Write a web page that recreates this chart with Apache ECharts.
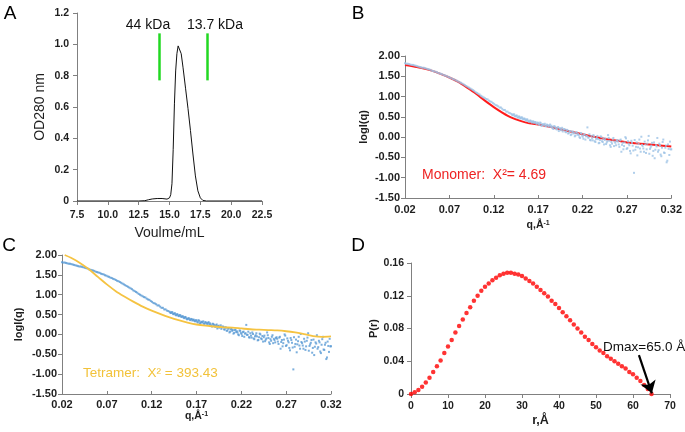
<!DOCTYPE html>
<html><head><meta charset="utf-8">
<script src="https://cdn.jsdelivr.net/npm/echarts@6/dist/echarts.min.js"></script>
<style>html,body{margin:0;padding:0;background:#fff}#c{width:685px;height:432px}</style>
</head><body><div id="c"></div>
<script>
// ---------- Panel A: size-exclusion chromatogram ----------
const elutionVolume = [7.5, 12.5, 13.0, 13.3, 13.6, 14.0, 14.4, 14.8, 15.0, 15.1, 15.2, 15.3, 15.4, 15.5, 15.6, 15.7, 15.77, 15.85, 15.95, 16.1, 16.3, 16.5, 16.7, 16.9, 17.1, 17.3, 17.5, 17.7, 18.0, 22.5];
const od280 = [0, 0, 0.002, 0.008, 0.013, 0.016, 0.016, 0.012, 0.02, 0.04, 0.11, 0.33, 0.62, 0.83, 0.94, 0.99, 1.0, 0.985, 0.94, 0.85, 0.72, 0.59, 0.45, 0.30, 0.16, 0.065, 0.02, 0.004, 0, 0];
const markerVolume = [14.17, 18.07];
const markerName = ['44 kDa', '13.7 kDa'];
const markerRange = [0.77, 1.07];

// ---------- Panels B & C: SAXS experimental data ----------
const qExpStart = 0.02, qExpStep = 0.0015;
const expLogI = [
 1.82,1.81,1.81,1.80,1.79,1.78,1.78,1.77,1.76,1.75,
 1.74,1.73,1.72,1.71,1.71,1.70,1.69,1.68,1.67,1.66,
 1.64,1.63,1.62,1.61,1.60,1.58,1.57,1.56,1.55,1.53,
 1.52,1.51,1.49,1.48,1.46,1.45,1.43,1.42,1.40,1.39,
 1.37,1.35,1.34,1.32,1.30,1.28,1.26,1.24,1.22,1.20,
 1.18,1.16,1.14,1.11,1.09,1.07,1.05,1.02,1.00,0.98,
 0.96,0.94,0.93,0.90,0.88,0.87,0.84,0.82,0.79,0.78,
 0.76,0.73,0.73,0.70,0.67,0.67,0.63,0.63,0.60,0.59,
 0.57,0.54,0.56,0.51,0.53,0.48,0.50,0.46,0.48,0.44,
 0.45,0.41,0.43,0.38,0.41,0.37,0.39,0.35,0.37,0.33,
 0.35,0.30,0.34,0.29,0.31,0.33,0.27,0.30,0.26,0.31,
 0.28,0.22,0.27,0.24,0.19,0.25,0.21,0.17,0.23,0.18,
 0.19,0.12,0.17,0.10,0.15,0.07,0.14,0.11,0.04,0.12,
 0.08,0.00,0.10,0.04,-0.04,0.07,0.02,0.24,-0.01,-0.07,
 0.03,-0.08,0.01,-0.12,-0.02,-0.05,-0.14,0.02,-0.10,-0.04,
 -0.07,-0.17,-0.10,-0.02,-0.20,-0.12,-0.06,-0.22,-0.14,-0.09,
 -0.11,-0.24,-0.06,-0.19,-0.30,-0.13,-0.03,-0.27,-0.16,-0.34,
 -0.09,-0.21,-0.88,-0.31,-0.13,-0.25,-0.06,-0.36,-0.19,-0.28,
 -0.11,-0.39,-0.16,0.03,-0.29,-0.21,-0.46,-0.13,-0.31,-0.23,
 -0.36,-0.16,-0.43,-0.26,-0.06,-0.39,-0.21,-0.58,-0.29,-0.11,
 -0.30
];
// second, interleaved set of readings in the noisy high-q region
const qExp2Start = 0.14075, qExp2Step = 0.0015;
const expLogI2 = [
 0.55,0.56,0.52,0.53,0.49,0.51,0.47,0.49,0.45,0.46,
 0.42,0.44,0.40,0.39,0.40,0.36,0.38,0.37,0.34,0.36,
 0.32,0.36,0.28,0.32,0.30,0.27,0.31,0.28,0.29,0.25,
 0.25,0.20,0.26,0.21,0.23,0.15,0.22,0.19,0.14,0.20,
 0.13,0.18,0.09,0.15,0.05,0.13,0.09,0.02,0.11,0.06,
 0.05,-0.02,0.09,0.01,0.06,-0.06,0.03,-0.01,0.07,-0.08,
 -0.03,0.05,-0.10,-0.05,0.03,-0.15,-0.07,0.00,-0.12,-0.18,
 -0.03,-0.13,0.05,-0.09,-0.24,-0.16,-0.02,-0.11,-0.20,-0.07,
 -0.18,-0.08,-0.36,-0.14,-0.22,0.00,-0.29,-0.10,-0.20,-0.40,
 -0.14,-0.33,-0.07,-0.24,-0.45,-0.17,-0.28,0.01,-0.22,-0.36,
 -0.18,-0.30,-0.08,-0.41,-0.25,-0.14,-0.34,-0.52,-0.20,-0.02,
 -0.32,-0.20,-0.47,-0.12,-0.38,-0.26,-0.62,-0.18,-0.44,-0.30
];
// Monomer fit (B)
const monoQ = [0.02,0.03,0.04,0.05,0.06,0.07,0.08,0.09,0.10,0.11,0.12,0.13,0.14,0.15,0.16,0.17,0.18,0.19,0.20,0.21,0.22,0.23,0.24,0.25,0.26,0.27,0.28,0.29,0.30,0.31,0.32];
const monoLogI = [1.78,1.74,1.70,1.64,1.56,1.47,1.36,1.22,1.07,0.90,0.74,0.60,0.48,0.40,0.34,0.31,0.27,0.22,0.17,0.12,0.07,0.02,-0.02,-0.06,-0.09,-0.13,-0.15,-0.17,-0.19,-0.21,-0.23];
// Tetramer fit (C)
const tetraQ = [0.023,0.03,0.04,0.05,0.06,0.07,0.08,0.09,0.10,0.11,0.12,0.13,0.14,0.15,0.16,0.17,0.18,0.19,0.20,0.21,0.22,0.23,0.24,0.25,0.26,0.27,0.28,0.29,0.30,0.31,0.32];
const tetraLogI = [2.00,1.93,1.80,1.64,1.45,1.26,1.09,0.95,0.82,0.70,0.60,0.51,0.43,0.36,0.30,0.25,0.22,0.20,0.18,0.17,0.15,0.13,0.12,0.11,0.10,0.08,0.05,0.01,-0.04,-0.06,-0.05];
const qTicks = [0.02,0.07,0.12,0.17,0.22,0.27,0.32];

// ---------- Panel D: pair distance distribution ----------
const rValues = [0,1,2,3,4,5,6,7,8,9,10,11,12,13,14,15,16,17,18,19,20,21,22,23,24,25,26,27,28,29,30,31,32,33,34,35,36,37,38,39,40,41,42,43,44,45,46,47,48,49,50,51,52,53,54,55,56,57,58,59,60,61,62,63,64,65];
const prValues = [0.000,0.002,0.005,0.009,0.014,0.020,0.027,0.034,0.041,0.050,0.058,0.066,0.075,0.083,0.091,0.099,0.106,0.114,0.120,0.126,0.131,0.135,0.139,0.142,0.145,0.147,0.148,0.148,0.147,0.146,0.144,0.141,0.138,0.135,0.131,0.127,0.123,0.119,0.114,0.110,0.105,0.100,0.095,0.090,0.085,0.080,0.075,0.070,0.066,0.061,0.057,0.053,0.050,0.046,0.043,0.040,0.037,0.034,0.031,0.027,0.024,0.020,0.016,0.011,0.006,0.000];
const dmaxArrow = [[61.6, 0.0476], [65.1, 0.0008]];

// ---------- build ----------
const FONT = 'Liberation Sans, Arial, sans-serif';
const AX = '#808080';
const TXT = '#1e1e1e';
const expData = expLogI.map((v, i) => [+(qExpStart + i * qExpStep).toFixed(5), v])
  .concat(expLogI2.map((v, i) => [+(qExp2Start + i * qExp2Step).toFixed(5), v]));

function vAxis(o) {
  return Object.assign({
    type: 'value',
    splitLine: { show: false },
    axisLine: { show: true, onZero: false, lineStyle: { color: AX, width: 1 } },
    axisTick: { show: true, length: 4, lineStyle: { color: AX } },
    axisLabel: { color: TXT, fontWeight: 'bold', fontSize: 11, fontFamily: FONT },
    nameLocation: 'middle',
    nameTextStyle: { color: TXT, fontFamily: FONT, fontWeight: 'bold', fontSize: 11 }
  }, o);
}
const supRich = { s: { fontSize: 7, fontWeight: 'bold', verticalAlign: 'top', color: TXT, fontFamily: FONT } };

const option = {
  animation: false,
  textStyle: { fontFamily: FONT },
  grid: [
    { left: 77, top: 13, width: 185, height: 188 },
    { left: 405, top: 56, width: 267, height: 142 },
    { left: 62, top: 255, width: 269, height: 139 },
    { left: 411, top: 263, width: 259, height: 131 }
  ],
  xAxis: [
    vAxis({ gridIndex: 0, min: 7.5, max: 22.5, interval: 2.5,
      axisLabel: { color: TXT, fontWeight: 'bold', fontSize: 10.5, margin: 9, formatter: v => v.toFixed(1) },
      name: 'Voulme/mL', nameGap: 25, nameTextStyle: { color: TXT, fontSize: 14, fontWeight: 'normal' } }),
    vAxis({ gridIndex: 1, min: 0.02, max: 0.32,
      axisTick: { show: true, inside: true, length: 3, customValues: qTicks, lineStyle: { color: AX } },
      axisLabel: { color: TXT, fontWeight: 'bold', fontSize: 11, margin: 6, customValues: qTicks, formatter: v => v.toFixed(2) },
      name: 'q,Å{s|-1}', nameGap: 22, nameTextStyle: { color: TXT, fontSize: 10.5, fontWeight: 'bold', rich: supRich } }),
    vAxis({ gridIndex: 2, min: 0.02, max: 0.32,
      axisTick: { show: true, inside: true, length: 3, customValues: qTicks, lineStyle: { color: AX } },
      axisLabel: { color: TXT, fontWeight: 'bold', fontSize: 11, margin: 5, customValues: qTicks, formatter: v => v.toFixed(2) },
      name: 'q,Å{s|-1}', nameGap: 15, nameTextStyle: { color: TXT, fontSize: 10.5, fontWeight: 'bold', rich: supRich } }),
    vAxis({ gridIndex: 3, min: 0, max: 70, interval: 10,
      axisLabel: { color: TXT, fontWeight: 'bold', fontSize: 10.5, margin: 7 },
      name: 'r,Å', nameGap: 20, nameTextStyle: { color: TXT, fontSize: 12.5, fontWeight: 'bold' } })
  ],
  yAxis: [
    vAxis({ gridIndex: 0, min: 0, max: 1.2, interval: 0.2,
      axisLabel: { color: TXT, fontWeight: 'bold', fontSize: 10.5, margin: 8, formatter: v => v === 0 ? '0' : v.toFixed(1) },
      name: 'OD280 nm', nameGap: 30, nameTextStyle: { color: TXT, fontSize: 14, fontWeight: 'normal' } }),
    vAxis({ gridIndex: 1, min: -1.5, max: 2.0, interval: 0.5,
      axisLabel: { color: TXT, fontWeight: 'bold', fontSize: 11, margin: 5, formatter: v => v.toFixed(2) },
      name: 'logI(q)', nameGap: 36 }),
    vAxis({ gridIndex: 2, min: -1.5, max: 2.0, interval: 0.5,
      axisLabel: { color: TXT, fontWeight: 'bold', fontSize: 11, margin: 5, formatter: v => v.toFixed(2) },
      name: 'logI(q)', nameGap: 38 }),
    vAxis({ gridIndex: 3, min: 0, max: 0.16, interval: 0.04,
      axisLabel: { color: TXT, fontWeight: 'bold', fontSize: 10.5, margin: 7, formatter: v => v === 0 ? '0' : v.toFixed(2) },
      name: 'P(r)', nameGap: 32 })
  ],
  series: [
    { type: 'line', xAxisIndex: 0, yAxisIndex: 0, showSymbol: false, symbol: 'none',
      lineStyle: { color: '#111', width: 1 },
      data: elutionVolume.map((v, i) => [v, od280[i]]) },
    { type: 'line', xAxisIndex: 0, yAxisIndex: 0, data: [], symbol: 'none',
      markLine: { silent: true, symbol: ['none', 'none'], label: { show: false },
        lineStyle: { color: '#22d822', width: 2.5, type: 'solid' },
        data: markerVolume.map(v => [{ coord: [v, markerRange[0]] }, { coord: [v, markerRange[1]] }]) } },
    { type: 'line', xAxisIndex: 1, yAxisIndex: 1, showSymbol: false, symbol: 'none', smooth: 0.3,
      lineStyle: { color: '#ff1a1a', width: 2 }, z: 2,
      data: monoQ.map((v, i) => [v, monoLogI[i]]) },
    { type: 'scatter', xAxisIndex: 1, yAxisIndex: 1, symbol: 'rect', symbolSize: 2, z: 3,
      itemStyle: { color: '#9dc3e6' }, data: expData },
    { type: 'scatter', xAxisIndex: 2, yAxisIndex: 2, symbol: 'rect', symbolSize: 2, z: 2,
      itemStyle: { color: '#5b9bd5' }, data: expData },
    { type: 'line', xAxisIndex: 2, yAxisIndex: 2, showSymbol: false, symbol: 'none', smooth: 0.3, z: 3,
      lineStyle: { color: '#f5c342', width: 1.8 },
      data: tetraQ.map((v, i) => [v, tetraLogI[i]]) },
    { type: 'scatter', xAxisIndex: 3, yAxisIndex: 3, symbol: 'circle', symbolSize: 4.5,
      itemStyle: { color: '#ff0000' },
      data: rValues.map((v, i) => [v, prValues[i]]),
      markLine: { silent: true, symbol: ['none', 'arrow'], symbolSize: 12, label: { show: false },
        lineStyle: { color: '#000', width: 2.2, type: 'solid' },
        data: [[{ coord: dmaxArrow[0] }, { coord: dmaxArrow[1] }]] } }
  ],
  graphic: [
    { type: 'text', x: 10, y: 14, style: { text: 'A', fontSize: 19, fontFamily: FONT, fill: '#000', align: 'center', verticalAlign: 'middle' } },
    { type: 'text', x: 358, y: 14, style: { text: 'B', fontSize: 19, fontFamily: FONT, fill: '#000', align: 'center', verticalAlign: 'middle' } },
    { type: 'text', x: 9, y: 246, style: { text: 'C', fontSize: 19, fontFamily: FONT, fill: '#000', align: 'center', verticalAlign: 'middle' } },
    { type: 'text', x: 358, y: 246, style: { text: 'D', fontSize: 19, fontFamily: FONT, fill: '#000', align: 'center', verticalAlign: 'middle' } },
    { type: 'text', x: 148, y: 25, style: { text: markerName[0], fontSize: 14, fontFamily: FONT, fill: '#111', align: 'center', verticalAlign: 'middle' } },
    { type: 'text', x: 215, y: 25, style: { text: markerName[1], fontSize: 14, fontFamily: FONT, fill: '#111', align: 'center', verticalAlign: 'middle' } },
    { type: 'text', x: 422, y: 175, style: { text: 'Monomer:  X²= 4.69', fontSize: 14, fontFamily: FONT, fill: '#ee2222', align: 'left', verticalAlign: 'middle' } },
    { type: 'text', x: 83, y: 373, style: { text: 'Tetramer:  X² = 393.43', fontSize: 13.5, fontFamily: FONT, fill: '#f2c23a', align: 'left', verticalAlign: 'middle' } },
    { type: 'text', x: 603, y: 347, style: { text: 'Dmax=65.0 Å', fontSize: 13.5, fontFamily: FONT, fill: '#111', align: 'left', verticalAlign: 'middle' } }
  ]
};
const chart = echarts.init(document.getElementById('c'), null, { renderer: 'canvas' });
chart.setOption(option);
</script>
</body></html>
